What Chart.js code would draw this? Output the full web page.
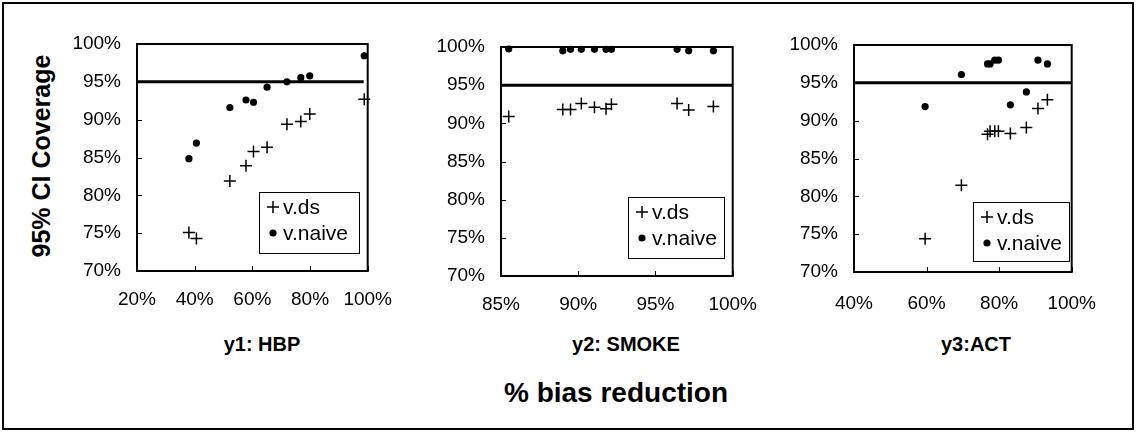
<!DOCTYPE html>
<html>
<head>
<meta charset="utf-8">
<script src="https://cdn.jsdelivr.net/npm/chart.js@4.4.1/dist/chart.umd.min.js"></script>
<style>
  html, body { margin: 0; padding: 0; background: #fff; }
  #page { position: relative; width: 1138px; height: 434px; overflow: hidden; background: #fff;
          font-family: "Liberation Sans", Arial, sans-serif; color: #000; }
  #border { position: absolute; left: 2px; top: 2px; width: 1132px; height: 428px;
            border: 2px solid #000; box-sizing: border-box; }
  canvas { position: absolute; top: 0; }
  .sub { position: absolute; top: 334px; font-weight: bold; font-size: 20px; line-height: 20px;
         white-space: nowrap; transform: translateX(-50%); }
  #xtitle { position: absolute; left: 616px; top: 379px; font-weight: bold; font-size: 28px; line-height: 28px;
            white-space: nowrap; transform: translateX(-50%); }
  #ytitle { position: absolute; left: 41px; top: 156px; width: 260px; height: 30px; line-height: 30px;
            margin-left: -130px; margin-top: -15px; text-align: center; font-weight: bold; font-size: 25px;
            white-space: nowrap; transform: rotate(-90deg); }
</style>
</head>
<body>
<div id="page">
  <div id="border"></div>
  <canvas id="c1"></canvas>
  <canvas id="c2"></canvas>
  <canvas id="c3"></canvas>
  <div class="sub" style="left:262px">y1: HBP</div>
  <div class="sub" style="left:626px">y2: SMOKE</div>
  <div class="sub" style="left:976px">y3:ACT</div>
  <div id="xtitle">% bias reduction</div>
  <div id="ytitle">95% CI Coverage</div>
</div>
<script>
// Nominal coverage level drawn as the horizontal reference line
const nominalCoverage = 95;

// y1: HBP — % bias reduction per scenario, and CI coverage (%) of each variance estimator
const hbpBiasReduction = [38.0, 40.6, 52.2, 57.8, 60.4, 65.1, 72.0, 76.8, 79.9, 98.8];
const hbpCoverageDs    = [75.1, 74.3, 81.9, 83.9, 85.8, 86.35, 89.4, 89.75, 90.75, 92.7];
const hbpCoverageNaive = [84.85, 86.9, 91.6, 92.6, 92.3, 94.3, 95.0, 95.55, 95.8, 98.45];

// y2: SMOKE
const smokeBiasReduction = [85.5, 89.0, 89.5, 90.2, 91.05, 91.8, 92.15, 96.4, 97.15, 98.75];
const smokeCoverageDs    = [90.9, 91.8, 91.8, 92.6, 92.1, 91.9, 92.5, 92.6, 91.75, 92.2];
const smokeCoverageNaive = [99.74, 99.5, 99.7, 99.7, 99.7, 99.7, 99.7, 99.7, 99.5, 99.5];

// y3: ACT
const actBiasReduction = [59.6, 69.6, 76.8, 77.5, 78.8, 79.8, 83.1, 87.5, 90.7, 93.3];
const actCoverageDs    = [74.4, 81.45, 88.2, 88.6, 88.6, 88.6, 88.3, 89.1, 91.6, 92.75];
const actCoverageNaive = [91.86, 96.1, 97.5, 97.5, 98.0, 98.0, 92.1, 93.8, 98.0, 97.5];

// Coverage axis shared by all three panels
const coverageMin = 70, coverageMax = 100, coverageStep = 5;

const FONT = '"Liberation Sans", Arial, sans-serif';
Chart.defaults.font.family = FONT;
Chart.defaults.color = '#000';

function pairs(xs, ys) { return xs.map((x, i) => ({ x: x, y: ys[i] })); }

// Page-pixel geometry of each panel: plot box, legend box, label spacing
const panels = [
  { canvas: 'c1', xs: hbpBiasReduction, ds: hbpCoverageDs, naive: hbpCoverageNaive,
    xMin: 20, xMax: 100, xStep: 20, refFrom: 20, refTo: 98.6,
    area: { l: 137, r: 379, t: 44, b: 271 }, xLabelPad: 17,
    legend: { l: 259, t: 192, w: 100, h: 61 } },
  { canvas: 'c2', xs: smokeBiasReduction, ds: smokeCoverageDs, naive: smokeCoverageNaive,
    xMin: 85, xMax: 100, xStep: 5, refFrom: 85, refTo: 100,
    area: { l: 501, r: 744, t: 47, b: 276 }, xLabelPad: 17,
    legend: { l: 628, t: 197, w: 96, h: 61 } },
  { canvas: 'c3', xs: actBiasReduction, ds: actCoverageDs, naive: actCoverageNaive,
    xMin: 40, xMax: 100, xStep: 20, refFrom: 40, refTo: 100,
    area: { l: 854, r: 1086, t: 45, b: 272 }, xLabelPad: 20,
    legend: { l: 973, t: 202, w: 96, h: 59 } }
];

const Y_AXIS_W = 80, RIGHT_PAD = 30, CANVAS_H = 330;

function drawMarker(ctx, style, radius, x, y) {
  ctx.beginPath();
  if (style === 'cross') {
    ctx.moveTo(x - radius, y); ctx.lineTo(x + radius, y);
    ctx.moveTo(x, y - radius); ctx.lineTo(x, y + radius);
    ctx.stroke();
  } else {
    ctx.arc(x, y, radius, 0, Math.PI * 2);
    ctx.fill();
  }
}

// Plot frame, inward tick marks and the boxed legend
const framePlugin = {
  id: 'panelFrame',
  afterDraw(chart, args, opts) {
    const ctx = chart.ctx, a = chart.chartArea;
    const xs = chart.scales.x, ys = chart.scales.y;
    ctx.save();
    ctx.strokeStyle = '#000';
    ctx.fillStyle = '#000';
    ctx.lineWidth = 1;
    ys.ticks.forEach(t => {
      const py = Math.round(ys.getPixelForValue(t.value)) + 0.5;
      ctx.beginPath(); ctx.moveTo(a.left, py); ctx.lineTo(a.left + 5, py); ctx.stroke();
    });
    xs.ticks.forEach(t => {
      const px = Math.round(xs.getPixelForValue(t.value)) + 0.5;
      ctx.beginPath(); ctx.moveTo(px, a.bottom); ctx.lineTo(px, a.bottom - 5); ctx.stroke();
    });
    ctx.lineWidth = 2;
    ctx.strokeRect(a.left, a.top, a.right - a.left, a.bottom - a.top);

    // legend
    const L = opts.box;
    ctx.lineWidth = 1;
    ctx.fillStyle = '#fff';
    ctx.fillRect(L.l, L.t, L.w, L.h);
    ctx.fillStyle = '#000';
    ctx.strokeRect(L.l + 0.5, L.t + 0.5, L.w, L.h);
    ctx.font = '21px ' + FONT;
    ctx.textBaseline = 'middle';
    ctx.textAlign = 'left';
    const rows = chart.data.datasets.filter(d => d.inLegend);
    rows.forEach((d, i) => {
      const cy = L.t + 15 + i * 26;
      ctx.lineWidth = d.borderWidth || 1.5;
      drawMarker(ctx, d.pointStyle, d.pointRadius, L.l + 14, cy);
      ctx.fillText(d.label, L.l + 24, cy + 1);
    });
    ctx.restore();
  }
};

panels.forEach(p => {
  const cv = document.getElementById(p.canvas);
  const left = p.area.l - Y_AXIS_W;
  const width = p.area.r + RIGHT_PAD - left;
  cv.width = width; cv.height = CANVAS_H;
  cv.style.left = left + 'px';
  cv.style.width = width + 'px'; cv.style.height = CANVAS_H + 'px';
  const xAxisH = CANVAS_H - p.area.b;

  new Chart(cv, {
    type: 'scatter',
    data: {
      datasets: [
        { label: '95%', data: [{ x: p.refFrom, y: nominalCoverage }, { x: p.refTo, y: nominalCoverage }],
          showLine: true, borderColor: '#000', borderWidth: 3, pointRadius: 0, borderCapStyle: 'butt',
          inLegend: false, order: 3 },
        { label: 'v.ds', data: pairs(p.xs, p.ds), pointStyle: 'cross', pointRadius: 6,
          borderColor: '#000', backgroundColor: '#000', borderWidth: 1.5, inLegend: true, order: 2 },
        { label: 'v.naive', data: pairs(p.xs, p.naive), pointStyle: 'circle', pointRadius: 3.6,
          borderColor: '#000', backgroundColor: '#000', borderWidth: 0, inLegend: true, order: 1 }
      ]
    },
    options: {
      responsive: false,
      animation: false,
      devicePixelRatio: 1,
      clip: false,
      layout: { padding: { top: p.area.t, right: RIGHT_PAD, left: 0, bottom: 0 } },
      plugins: {
        legend: { display: false },
        tooltip: { enabled: false },
        panelFrame: { box: { l: p.legend.l - left, t: p.legend.t, w: p.legend.w, h: p.legend.h } }
      },
      scales: {
        x: {
          type: 'linear', min: p.xMin, max: p.xMax,
          grid: { display: false, drawTicks: false }, border: { display: false },
          ticks: { stepSize: p.xStep, autoSkip: false, maxRotation: 0, padding: p.xLabelPad,
                   font: { size: 19 }, color: '#000', callback: v => v + '%' },
          afterFit: s => { s.height = xAxisH; }
        },
        y: {
          type: 'linear', min: coverageMin, max: coverageMax,
          grid: { display: false, drawTicks: false }, border: { display: false },
          ticks: { stepSize: coverageStep, autoSkip: false, padding: 16,
                   font: { size: 19 }, color: '#000', callback: v => v + '%' },
          afterFit: s => { s.width = Y_AXIS_W; }
        }
      }
    },
    plugins: [framePlugin]
  });
});
</script>
</body>
</html>
